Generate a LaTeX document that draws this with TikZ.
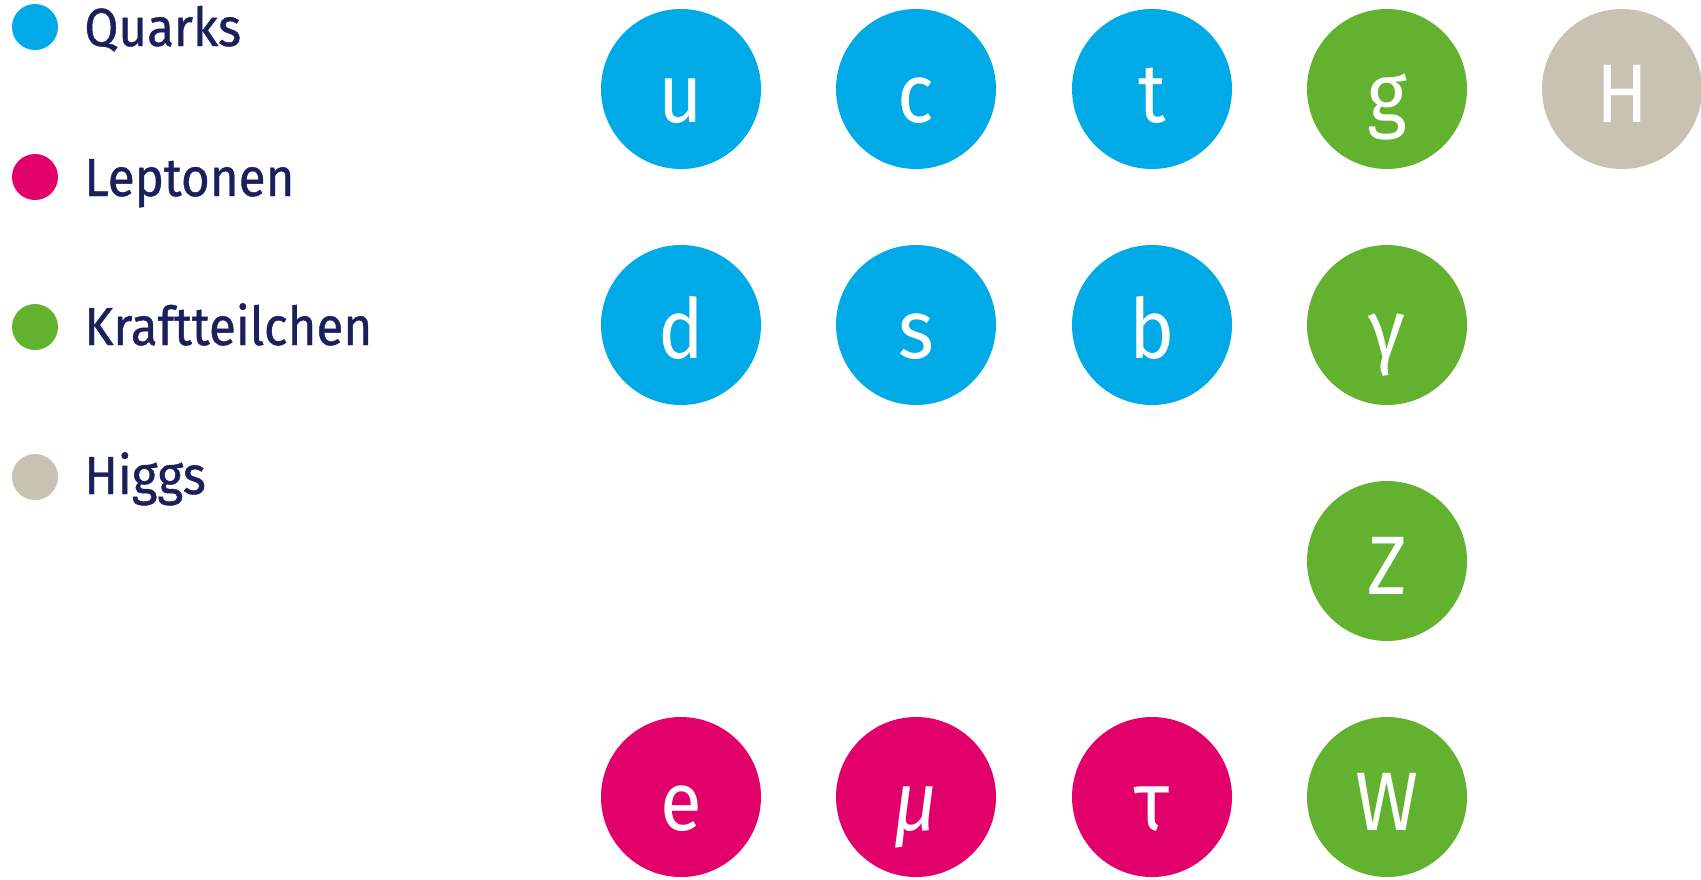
\documentclass[tikz,border=0pt]{standalone}
\usepackage{fontspec}
\setmainfont{Fira Sans}[FakeStretch=0.92]
\newfontfamily\legendfont{Fira Sans}[FakeStretch=0.92, FakeBold=0.8]
\definecolor{quarkblue}{HTML}{00AAE6}
\definecolor{leptonpink}{HTML}{E2006A}
\definecolor{forcegreen}{HTML}{62B22F}
\definecolor{higgsgrey}{HTML}{C8C2B3}
\definecolor{legendnavy}{HTML}{1B1F5C}
\begin{document}
\begin{tikzpicture}[x = 0.5pt, y = -0.5pt,
        particle/.style={circle, minimum size=80pt, inner sep=0pt, text=white, font=\fontsize{41.5}{44}\selectfont, text height=33pt, text depth=0pt},
        quark/.style={particle, fill=quarkblue},
        lepton/.style={particle, fill=leptonpink},
        boson/.style={particle, fill=forcegreen},
        higgs/.style={particle, fill=higgsgrey},
        legdot/.style={circle, minimum size=23pt, inner sep=0pt},
        legtext/.style={anchor=base west, inner sep=0pt, text=legendnavy, font=\legendfont\fontsize{26.8}{30}\selectfont}]

        \useasboundingbox (0, 0) rectangle (1701, 879);

        % legend
        \node[legdot, fill=quarkblue] at (35, 27) (dotq) {};
        \node[legtext] at (84, 46) (legq) {Quarks};
        \node[legdot, fill=leptonpink] at (35, 177) (dotl) {};
        \node[legtext] at (84, 196) (legl) {Leptonen};
        \node[legdot, fill=forcegreen] at (35, 327) (dotk) {};
        \node[legtext] at (84, 345) (legk) {Kraftteilchen};
        \node[legdot, fill=higgsgrey] at (35, 477) (doth) {};
        \node[legtext] at (84, 494) (legh) {Higgs};

        % quarks
        \node[quark] at (681, 89) (u) {u};
        \node[quark] at (916, 89) (c) {c};
        \node[quark] at (1152, 89) (t) {t};
        \node[quark] at (681, 325) (d) {d};
        \node[quark] at (916, 325) (s) {s};
        \node[quark] at (1152, 325) (b) {b};

        % leptons
        \node[lepton] at (681, 797) (e) {e};
        \node[lepton] at (916, 797) (mu) {\itshape μ};
        \node[lepton] at (1152, 797) (tau) {τ};

        % force carriers
        \node[boson] at (1387, 89) (g) {g};
        \node[boson] at (1387, 325) (gamma) {γ};
        \node[boson] at (1387, 561) (Z) {Z};
        \node[boson] at (1387, 797) (W) {W};

        % higgs
        \node[higgs] at (1622, 89) (H) {H};
        \end{tikzpicture}
\end{document}
